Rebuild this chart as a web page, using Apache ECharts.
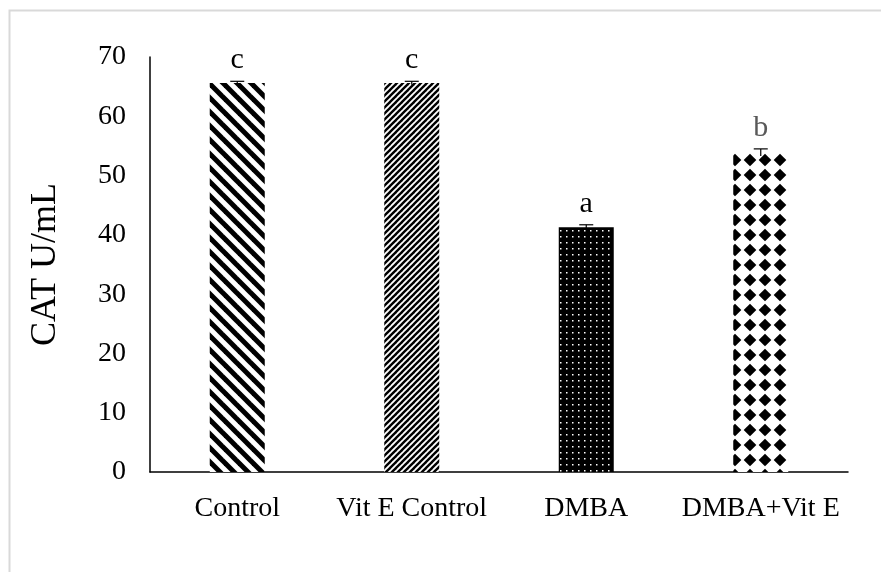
<!DOCTYPE html>
<html>
<head>
<meta charset="utf-8">
<script src="https://cdn.jsdelivr.net/npm/echarts@6/dist/echarts.min.js"></script>
<style>
html,body{margin:0;padding:0;background:#fff;}
#chart{width:881px;height:572px;}
</style>
</head>
<body>
<div id="chart"></div>
<script>
var categories = ['Control', 'Vit E Control', 'DMBA', 'DMBA+Vit E'];
var values = [65.6, 65.6, 41.3, 53.9];
var errors = [0.3, 0.3, 0.4, 0.6];
var letters = ['c', 'c', 'a', 'b'];
var letterColors = ['#000', '#000', '#000', '#595959'];
var yTicks = [0, 10, 20, 30, 40, 50, 60, 70];

function makeCanvas(w, h, draw) {
  var c = document.createElement('canvas');
  c.width = w; c.height = h;
  var ctx = c.getContext('2d');
  draw(ctx, w, h);
  return c;
}
// Control: wide "\" stripes
var patControl = makeCanvas(14, 14, function (ctx, w, h) {
  ctx.fillStyle = '#fff'; ctx.fillRect(0, 0, w, h);
  ctx.strokeStyle = '#000'; ctx.lineWidth = 5;
  for (var k = -1; k <= 1; k++) {
    ctx.beginPath(); ctx.moveTo(k * w - 2, -2); ctx.lineTo(k * w + w + 2, h + 2); ctx.stroke();
  }
});
// Vit E Control: narrow "/" stripes
var patVitE = makeCanvas(6, 6, function (ctx, w, h) {
  ctx.fillStyle = '#fff'; ctx.fillRect(0, 0, w, h);
  ctx.strokeStyle = '#000'; ctx.lineWidth = 2.4;
  for (var k = -1; k <= 1; k++) {
    ctx.beginPath(); ctx.moveTo(k * w - 1, h + 1); ctx.lineTo(k * w + w + 1, -1); ctx.stroke();
  }
});
// DMBA: black with small white dots
var patDMBA = makeCanvas(6, 6, function (ctx, w, h) {
  ctx.fillStyle = '#000'; ctx.fillRect(0, 0, w, h);
  ctx.fillStyle = '#fff'; ctx.fillRect(2, 2, 1.5, 1.5);
});
// DMBA+Vit E: black diamonds on white
var patDV = makeCanvas(15, 15, function (ctx, w, h) {
  ctx.fillStyle = '#fff'; ctx.fillRect(0, 0, w, h);
  ctx.fillStyle = '#000';
  var r = 6.3;
  [[0, 10], [15, 10], [0, -5], [15, -5], [0, 25], [15, 25]].forEach(function (c) {
    ctx.beginPath();
    ctx.moveTo(c[0], c[1] - r); ctx.lineTo(c[0] + r, c[1]); ctx.lineTo(c[0], c[1] + r); ctx.lineTo(c[0] - r, c[1]); ctx.closePath();
    ctx.fill();
  });
});
var patterns = [patControl, patVitE, patDMBA, patDV];

var barData = values.map(function (v, i) {
  return { value: v, itemStyle: { color: { image: patterns[i], repeat: 'repeat' } } };
});
var errData = values.map(function (v, i) { return [i, v, errors[i]]; });

var chart = echarts.init(document.getElementById('chart'));
chart.setOption({
  animation: false,
  backgroundColor: '#fff',
  graphic: [{
    type: 'rect', left: 7, top: 8,
    shape: { width: 900, height: 600 },
    style: { fill: 'none', stroke: '#d9d9d9', lineWidth: 2 }
  }],
  grid: { left: 150, right: 33, top: 57, bottom: 100 },
  xAxis: {
    type: 'category',
    data: categories,
    axisLine: { lineStyle: { color: '#000', width: 1.5 } },
    axisTick: { show: false },
    axisLabel: { color: '#000', fontFamily: 'Liberation Serif', fontSize: 28, margin: 23,
      interval: 0, hideOverlap: false }
  },
  yAxis: {
    type: 'value', min: 0, max: 70, interval: 10,
    name: 'CAT U/mL', nameLocation: 'middle', nameGap: 86,
    nameTextStyle: { color: '#000', fontFamily: 'Liberation Serif', fontSize: 36 },
    axisLine: { show: true, lineStyle: { color: '#000', width: 1.5 } },
    axisTick: { show: false },
    splitLine: { show: false },
    axisLabel: { color: '#000', fontFamily: 'Liberation Serif', fontSize: 28, margin: 24,
      formatter: function (v) { return yTicks.indexOf(v) >= 0 ? String(v) : ''; } }
  },
  series: [{
    type: 'bar',
    data: barData,
    barWidth: 55,
    z: 2
  }, {
    type: 'custom',
    data: errData,
    z: 3,
    renderItem: function (params, api) {
      var x = api.value(0), v = api.value(1), e = api.value(2);
      var pTop = api.coord([x, v + e]);
      var pBot = api.coord([x, v - e]);
      var cap = 7;
      var idx = params.dataIndex;
      return {
        type: 'group',
        children: [
          { type: 'line', shape: { x1: pTop[0], y1: pTop[1], x2: pBot[0], y2: pBot[1] }, style: { stroke: '#000', lineWidth: 1.2 } },
          { type: 'line', shape: { x1: pTop[0] - cap, y1: pTop[1], x2: pTop[0] + cap, y2: pTop[1] }, style: { stroke: '#000', lineWidth: 1.2 } },
          { type: 'text', x: pTop[0], y: pTop[1] - 6,
            style: { text: letters[idx], fill: letterColors[idx], font: '30px "Liberation Serif"', textAlign: 'center', textVerticalAlign: 'bottom' } }
        ]
      };
    }
  }]
});
</script>
</body>
</html>
